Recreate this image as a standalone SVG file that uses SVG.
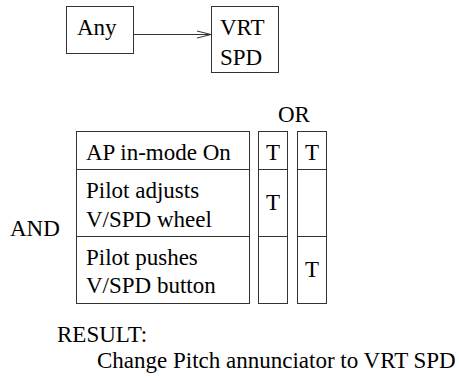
<svg xmlns="http://www.w3.org/2000/svg" width="459" height="381" viewBox="0 0 459 381">
  <style>
    .box { fill: #ffffff; stroke: #333333; stroke-width: 1; }
    .rule { stroke: #333333; stroke-width: 1; fill: none; }
    .mid { text-anchor: middle; }
  </style>
  <rect width="459" height="381" fill="#ffffff"/>

  <g font-family="'Liberation Serif', 'Times New Roman', serif" font-size="23" fill="#000000">
  <!-- state transition: Any -> VRT SPD -->
  <g id="node-any">
    <rect class="box" x="66.5" y="6.5" width="67" height="47"/>
    <text x="77" y="35">Any</text>
  </g>
  <g id="node-vrt-spd">
    <rect class="box" x="211.5" y="6.5" width="67" height="66"/>
    <text x="220" y="35">VRT</text>
    <text x="220" y="65">SPD</text>
  </g>
  <g id="connectors">
    <line class="rule" x1="133.5" y1="34.5" x2="211" y2="34.5"/>
    <polyline class="rule" points="197,31 211,34.5 197,38"/>
  </g>

  <!-- AND/OR condition table -->
  <g id="label-or">
    <text x="278" y="122">OR</text>
  </g>
  <g id="label-and">
    <text x="10" y="236">AND</text>
  </g>
  <g id="conditions">
    <rect class="box" x="76.5" y="131.5" width="173" height="172"/>
    <line class="rule" x1="76.5" y1="169.5" x2="249.5" y2="169.5"/>
    <line class="rule" x1="76.5" y1="236.5" x2="249.5" y2="236.5"/>
    <text x="86" y="160">AP in-mode On</text>
    <text x="86" y="198">Pilot adjusts</text>
    <text x="86" y="227">V/SPD wheel</text>
    <text x="86" y="265">Pilot pushes</text>
    <text x="86" y="293">V/SPD button</text>
  </g>
  <g id="column-1">
    <rect class="box" x="258.5" y="131.5" width="29" height="172"/>
    <line class="rule" x1="258.5" y1="169.5" x2="287.5" y2="169.5"/>
    <line class="rule" x1="258.5" y1="236.5" x2="287.5" y2="236.5"/>
    <text class="mid" x="273" y="160">T</text>
    <text class="mid" x="273" y="210">T</text>
  </g>
  <g id="column-2">
    <rect class="box" x="297.5" y="131.5" width="29" height="172"/>
    <line class="rule" x1="297.5" y1="169.5" x2="326.5" y2="169.5"/>
    <line class="rule" x1="297.5" y1="236.5" x2="326.5" y2="236.5"/>
    <text class="mid" x="312" y="160">T</text>
    <text class="mid" x="312" y="277">T</text>
  </g>

  <!-- outcome -->
  <g id="result">
    <text x="57" y="342">RESULT:</text>
    <text x="97" y="368">Change Pitch annunciator to VRT SPD</text>
  </g>
  </g>
</svg>
